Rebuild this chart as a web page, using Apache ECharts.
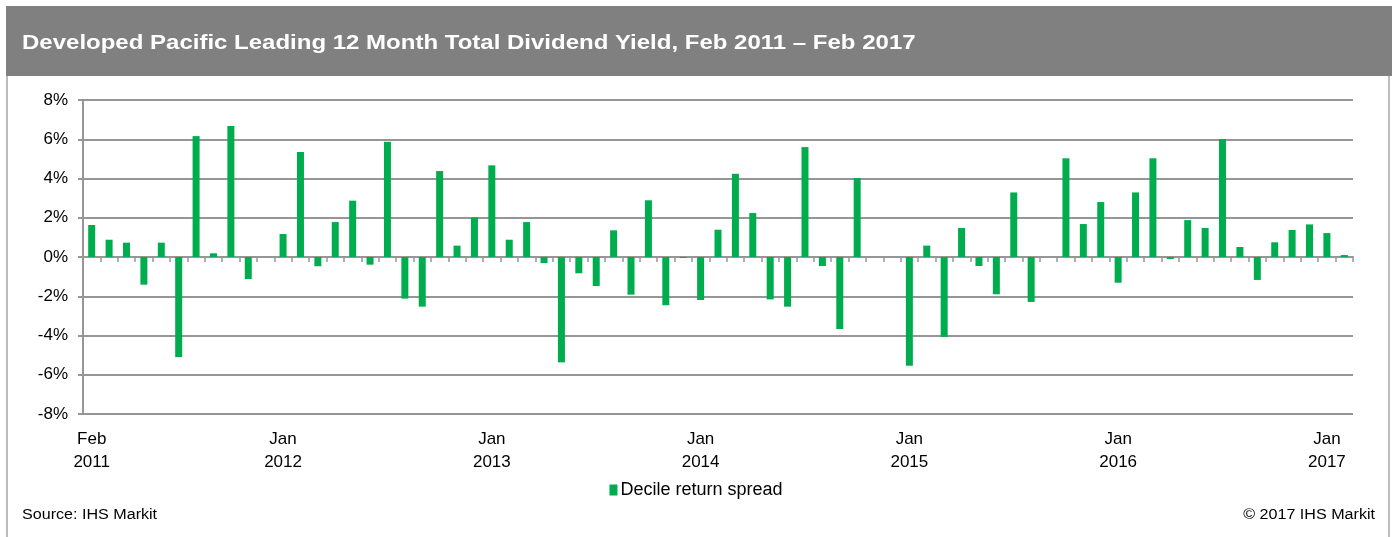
<!DOCTYPE html>
<html>
<head>
<meta charset="utf-8">
<script src="https://cdn.jsdelivr.net/npm/echarts@6/dist/echarts.min.js"></script>
<style>
html,body{margin:0;padding:0;background:#fff;}
#chart{width:1392px;height:537px;}
</style>
</head>
<body>
<div id="chart"></div>
<script>
const titleText = "Developed Pacific Leading 12 Month Total Dividend Yield, Feb 2011 \u2013 Feb 2017";
const seriesName = "Decile return spread";
const sourceText = "Source: IHS Markit";
const copyrightText = "\u00a9 2017 IHS Markit";

const categories = [
  "Feb 2011","Mar 2011","Apr 2011","May 2011","Jun 2011","Jul 2011","Aug 2011","Sep 2011","Oct 2011","Nov 2011","Dec 2011",
  "Jan 2012","Feb 2012","Mar 2012","Apr 2012","May 2012","Jun 2012","Jul 2012","Aug 2012","Sep 2012","Oct 2012","Nov 2012","Dec 2012",
  "Jan 2013","Feb 2013","Mar 2013","Apr 2013","May 2013","Jun 2013","Jul 2013","Aug 2013","Sep 2013","Oct 2013","Nov 2013","Dec 2013",
  "Jan 2014","Feb 2014","Mar 2014","Apr 2014","May 2014","Jun 2014","Jul 2014","Aug 2014","Sep 2014","Oct 2014","Nov 2014","Dec 2014",
  "Jan 2015","Feb 2015","Mar 2015","Apr 2015","May 2015","Jun 2015","Jul 2015","Aug 2015","Sep 2015","Oct 2015","Nov 2015","Dec 2015",
  "Jan 2016","Feb 2016","Mar 2016","Apr 2016","May 2016","Jun 2016","Jul 2016","Aug 2016","Sep 2016","Oct 2016","Nov 2016","Dec 2016",
  "Jan 2017","Feb 2017"
];

const spread = [
  1.63, 0.88, 0.73, -1.41, 0.73, -5.10, 6.16, 0.19, 6.67, -1.12, 0,
  1.17, 5.35, -0.47, 1.78, 2.87, -0.39, 5.87, -2.12, -2.53, 4.38, 0.58, 2.02,
  4.67, 0.88, 1.78, -0.31, -5.37, -0.83, -1.48, 1.36, -1.92, 2.89, -2.46, -0.05,
  -2.19, 1.39, 4.24, 2.24, -2.16, -2.53, 5.60, -0.46, -3.67, 4.02, 0, 0,
  -5.54, 0.58, -4.07, 1.48, -0.46, -1.90, 3.29, -2.29, 0, 5.03, 1.68, 2.80,
  -1.31, 3.29, 5.03, -0.10, 1.88, 1.48, 6.01, 0.51, -1.17, 0.75, 1.38, 1.66,
  1.22, 0.10
];

const tickLabelIndex = [0, 11, 23, 35, 47, 59, 71];

const FONT = "'Liberation Sans', Arial, sans-serif";
const GRID_COLOR = "#969696";
const BAR_COLOR = "#00AD4E";

const chart = echarts.init(document.getElementById('chart'), null, {renderer: 'canvas'});

const gridBox = {left: 83, right: 39, top: 100, bottom: 123, containLabel: false};

chart.setOption({
  animation: false,
  backgroundColor: '#ffffff',
  textStyle: {fontFamily: FONT},
  graphic: [
    {type: 'rect', left: 6, top: 6, shape: {width: 1386, height: 70}, style: {fill: '#7f807f'}, z: 0},
    {type: 'line', shape: {x1: 7, y1: 76, x2: 7, y2: 537}, style: {stroke: '#a6a6a6', lineWidth: 1.5}},
    {type: 'line', shape: {x1: 1389, y1: 76, x2: 1389, y2: 537}, style: {stroke: '#a6a6a6', lineWidth: 1.5}},
    {type: 'text', x: 22, y: 33, scaleX: 1.2, style: {text: titleText, fill: '#ffffff', font: "bold 20px " + FONT}, z: 5},
    {type: 'text', x: 22, y: 508, scaleX: 1.15, style: {text: sourceText, fill: '#000000', font: "14px " + FONT}},
    {type: 'text', x: 1375, y: 508, scaleX: 1.15, style: {text: copyrightText, fill: '#000000', font: "14px " + FONT, align: 'right'}}
  ],
  legend: {
    show: true,
    data: [seriesName],
    left: 'center',
    top: 476,
    icon: 'rect',
    itemWidth: 8,
    itemHeight: 11,
    itemGap: 4,
    textStyle: {fontFamily: FONT, fontSize: 18, color: '#000', padding: [0, 0, 0, -2]}
  },
  grid: [gridBox, Object.assign({}, gridBox)],
  xAxis: [
    {
      type: 'category',
      gridIndex: 0,
      position: 'bottom',
      data: categories,
      boundaryGap: true,
      axisLine: {show: false, onZero: false},
      axisTick: {show: false},
      splitLine: {show: false},
      axisLabel: {
        interval: function (i) { return tickLabelIndex.indexOf(i) >= 0; },
        formatter: function (v) { return v.replace(' ', '\n'); },
        color: '#000',
        fontFamily: FONT,
        fontSize: 17,
        lineHeight: 23,
        margin: 14
      }
    },
    {
      type: 'category',
      gridIndex: 1,
      position: 'bottom',
      data: categories,
      boundaryGap: true,
      axisLine: {show: true, onZero: true, lineStyle: {color: GRID_COLOR, width: 2}},
      axisTick: {show: true, inside: false, interval: 0, length: 5, lineStyle: {color: GRID_COLOR, width: 1.5}},
      axisLabel: {show: false},
      splitLine: {show: false}
    }
  ],
  yAxis: [
    {
      type: 'value',
      gridIndex: 0,
      min: -8,
      max: 8,
      interval: 2,
      axisLine: {show: true, onZero: false, lineStyle: {color: GRID_COLOR, width: 2}},
      axisTick: {show: true, length: 5, lineStyle: {color: GRID_COLOR, width: 2}},
      splitLine: {show: true, lineStyle: {color: GRID_COLOR, width: 2}},
      axisLabel: {
        formatter: function (v) { return v + '%'; },
        color: '#000',
        fontFamily: FONT,
        fontSize: 17,
        margin: 15
      }
    },
    {
      type: 'value',
      gridIndex: 1,
      min: -8,
      max: 8,
      interval: 2,
      show: false
    }
  ],
  series: [
    {
      name: seriesName,
      type: 'bar',
      xAxisIndex: 0,
      yAxisIndex: 0,
      data: spread,
      barWidth: 7,
      itemStyle: {color: BAR_COLOR},
      z: 3
    }
  ]
});
</script>
</body>
</html>
